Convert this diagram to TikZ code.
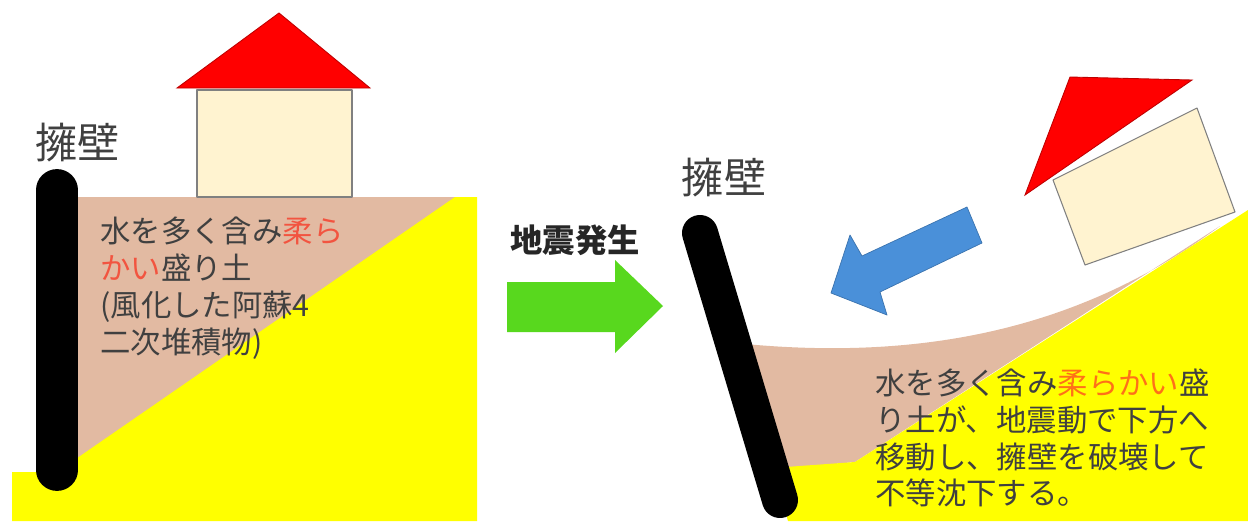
\documentclass[tikz,border=0pt]{standalone}
\usepackage{fontspec}
\newfontfamily\jp{Noto Sans CJK JP}
\definecolor{mud}{RGB}{226,186,162}
\definecolor{sand}{RGB}{255,255,0}
\definecolor{cream}{RGB}{255,243,208}
\definecolor{roofred}{RGB}{255,0,0}
\definecolor{leafgreen}{RGB}{88,216,30}
\definecolor{slideblue}{RGB}{74,144,217}
\definecolor{ink}{RGB}{64,64,64}
\definecolor{softred}{RGB}{242,84,64}
\definecolor{softorange}{RGB}{255,112,24}

\begin{document}
\begin{tikzpicture}[x=0.02cm,y=-0.02cm,
  wall/.style={line width=23.8pt,line cap=round,black},
  soil/.style={fill=mud},
  ground/.style={fill=sand},
  housebox/.style={fill=cream,draw=gray,line width=0.6pt,line join=round},
  roof/.style={fill=roofred,draw=roofred!75!black,line width=0.5pt},
  note/.style={font=\jp\fontsize{17.3}{21}\selectfont,text=ink,align=left,inner sep=0pt},
  wallname/.style={font=\jp\fontsize{24}{28}\selectfont,text=ink,inner sep=0pt}]
\useasboundingbox (0,0) rectangle (1248,521);

% before the quake
\fill[soil] (60,197) -- (460,197) -- (60,484) -- cycle;
\fill[ground] (12,472) -- (57,472) -- (455,197) -- (477,197) -- (477,521) -- (12,521) -- cycle;
\draw[wall] (57,190) -- (57,470);
\draw[housebox] (197,90) rectangle (352,197);
\draw[roof] (177,88) -- (279,13) -- (370,88) -- cycle;
\node[wallname] (wallL) at (78,143) {擁壁};
\node[note,anchor=west] (soilL) at (100,288) {水を多く含み\textcolor{softred}{柔ら}\\\textcolor{softred}{かい}盛り土\\(風化した阿蘇4\\二次堆積物)};

% quake arrow
\node[font=\jp\bfseries\fontsize{18.4}{22}\selectfont,text=black!85,inner sep=0pt] (quake) at (575,240) {地震発生};
\fill[leafgreen] (507,282) -- (615,282) -- (615,260) -- (663,306) -- (615,353) -- (615,332) -- (507,332) -- cycle;

% after the quake
\fill[soil] (735,343) .. controls (920,362) and (1080,330) .. (1220,226) -- (855,462) -- (772,470) -- cycle;
\fill[ground] (772,468) -- (855,462) -- (1248,210) -- (1248,521) -- (788,521) -- cycle;
\draw[wall,line width=20.5pt] (700,233) -- (780,500);
\draw[housebox] (1053,180) -- (1197,108) -- (1235,212) -- (1085,265) -- cycle;
\draw[roof] (1070,77) -- (1192,80) -- (1025,195) -- cycle;
\filldraw[fill=slideblue,draw=slideblue!80!black,line width=0.4pt,line join=round]
  (967,207) -- (982,243) -- (880,292) -- (887,315) -- (831,293) -- (850,235) -- (862,256) -- cycle;
\node[wallname] (wallR) at (724,178) {擁壁};
\node[note,anchor=west] (soilR) at (875,438) {水を多く含み\textcolor{softorange}{柔らかい}盛\\り土が、地震動で下方へ\\移動し、擁壁を破壊して\\不等沈下する。};
\end{tikzpicture}
\end{document}
